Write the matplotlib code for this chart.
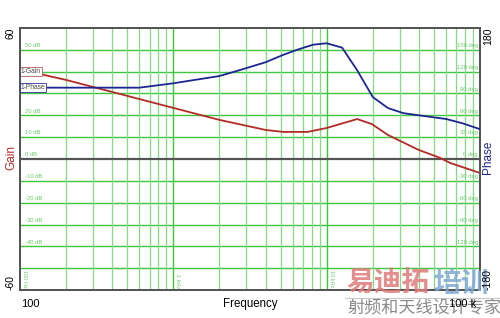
import numpy as np
import matplotlib
matplotlib.use("Agg")
import matplotlib.pyplot as plt
from matplotlib.ticker import NullLocator
from matplotlib.lines import Line2D

plt.rcParams['font.family'] = ['Liberation Sans', 'DejaVu Sans']

# ---- data ----
gain_freq = [100, 200, 1000, 2000, 4000, 5200, 7500, 10000, 15800, 19700, 25100, 40000, 55000, 63800, 100000]
gain_db   = [41, 36.2, 23.4, 17.9, 13.3, 12.4, 12.4, 14.2, 18.3, 16.0, 11.0, 4.1, 0.5, -1.8, -6.4]

phase_freq = [100, 600, 1000, 1230, 2000, 2700, 4000, 5200, 6400, 8150, 10000, 12600, 15800,
              20000, 25100, 31600, 47000, 60000, 77000, 100000]
phase_deg  = [98, 98, 104, 107, 114, 122, 133, 143, 150, 157, 159, 153, 122,
              85, 70, 63, 58, 55, 49, 41]

gain_grid_labels = ["50 dB", "", "20 dB", "10 dB", "0 dB", "-10 dB", "-20 dB", "-30 dB", "-40 dB"]
gain_grid_values = [50, 40, 20, 10, 0, -10, -20, -30, -40]
phase_grid_labels = ["150 deg", "120 deg", "90 deg", "60 deg", "35 deg", "0 deg",
                     "-30 deg", "-60 deg", "-90 deg", "-120 deg"]
phase_grid_values = [150, 120, 90, 60, 30, 0, -30, -60, -90, -120]
decade_labels = ["100 Hz", "1 kHz", "10 kHz"]
decade_values = [100, 1000, 10000]

fig = plt.figure(figsize=(5.0, 3.18), dpi=100)
ax = fig.add_axes([0.04, 0.088, 0.92, 0.824])
ax.set_xscale('log')
ax.set_xlim(100, 100000)
ax.set_ylim(-60, 60)
ax2 = ax.twinx()
ax2.set_ylim(-180, 180)

major_c = '#3fc63f'
minor_c = '#86da86'

# horizontal grid
for v in range(-50, 60, 10):
    if v == 0:
        continue
    ax.axhline(v, color=major_c, lw=1.0, zorder=1)
ax.axhline(0, color='#555555', lw=1.6, zorder=2)

# vertical grid
for dec in [100, 1000, 10000]:
    for m in range(1, 10):
        f = dec * m
        if f <= 100:
            continue
        if m == 1:
            ax.axvline(f, color=major_c, lw=1.0, zorder=1)
        else:
            ax.axvline(f, color=minor_c, lw=0.9, zorder=1)

# grid labels
for lab, v in zip(gain_grid_labels, gain_grid_values):
    if lab:
        ax.text(108, v + 0.8, lab, color='#6ac86a', fontsize=4.2, ha='left', va='bottom', zorder=3)
for lab, v in zip(phase_grid_labels, phase_grid_values):
    ax2.text(97000, v + 2.4, lab, color='#6ac86a', fontsize=4.2, ha='right', va='bottom', zorder=3)
for lab, v in zip(decade_labels, decade_values):
    ax.text(v * 1.03, -59, lab, color='#6ac86a', fontsize=4.0, rotation=270,
            ha='left', va='bottom', zorder=3)

# curves
ax.plot(gain_freq, gain_db, color='#b42a26', lw=1.3, zorder=5)
ax2.plot(phase_freq, phase_deg, color='#1c2590', lw=1.3, zorder=5)

# legend-like tags
ax.text(101, 40, "1-Gain", fontsize=4.8, color='#444444', ha='left', va='center', zorder=6,
        bbox=dict(boxstyle='square,pad=0.15', fc='white', ec='#b06060', lw=0.6))
ax2.text(101, 98, "1-Phase", fontsize=4.8, color='#444444', ha='left', va='center', zorder=6,
         bbox=dict(boxstyle='square,pad=0.15', fc='white', ec='#303090', lw=0.6))

for a in (ax, ax2):
    a.xaxis.set_major_locator(NullLocator())
    a.xaxis.set_minor_locator(NullLocator())
    a.yaxis.set_major_locator(NullLocator())
    a.yaxis.set_minor_locator(NullLocator())
    for s in a.spines.values():
        s.set_color('#555555')
        s.set_linewidth(1.4)

# watermark (drawn before the outer labels so those sit on top)
cjk = ['Noto Sans CJK SC', 'DejaVu Sans']
fig.text(0.692, 0.108, "易迪拓", family=cjk, fontsize=20, color='#e07a7a',
         ha='left', va='center', alpha=0.85, weight='bold')
fig.text(0.866, 0.108, "培训", family=cjk, fontsize=20, color='#7fa8d4',
         ha='left', va='center', alpha=0.85, weight='bold')
fig.add_artist(Line2D([0.69, 1.0], [0.063, 0.063], color='#c8c8c8', lw=0.8))
fig.text(0.694, 0.030, "射频和天线设计专家", family=cjk, fontsize=12.3,
         color='#8a8a8a', ha='left', va='center')

# outer labels
fig.text(0.022, 0.912, "60", rotation=90, ha='center', va='top', fontsize=7.5)
fig.text(0.022, 0.088, "-60", rotation=90, ha='center', va='bottom', fontsize=7.5)
fig.text(0.022, 0.505, "Gain", rotation=90, ha='center', va='center', fontsize=8.5, color='#b42a26')
fig.text(0.976, 0.912, "180", rotation=90, ha='center', va='top', fontsize=7.5)
fig.text(0.976, 0.088, "-180", rotation=90, ha='center', va='bottom', fontsize=7.5)
fig.text(0.976, 0.505, "Phase", rotation=90, ha='center', va='center', fontsize=8.5, color='#1c2590')

fig.text(0.06, 0.045, "100", ha='center', va='center', fontsize=8)
fig.text(0.50, 0.045, "Frequency", ha='center', va='center', fontsize=8.3)
fig.text(0.925, 0.045, "100 k", ha='center', va='center', fontsize=8)

fig.savefig("out.png", dpi=100)
